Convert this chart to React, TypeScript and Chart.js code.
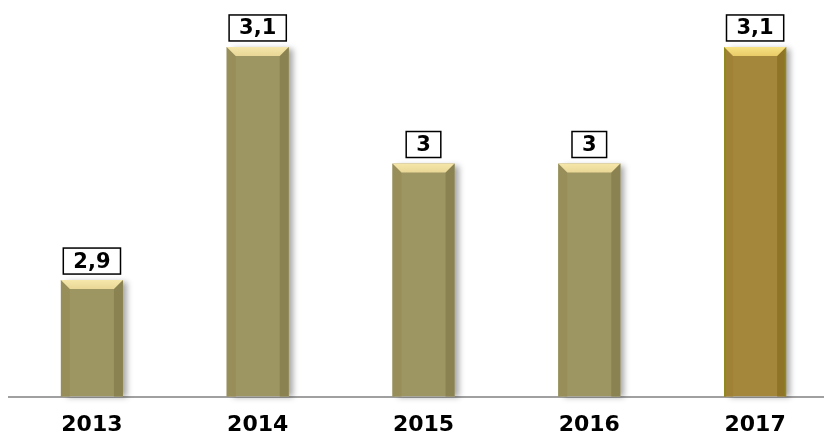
import React, { useEffect, useRef } from "react";
import { Chart, registerables } from "chart.js";

Chart.register(...registerables);

const categories = ["2013", "2014", "2015", "2016", "2017"];
const values = [2.9, 3.1, 3.0, 3.0, 3.1];
const bodyColors = ["#9e9662", "#9e9662", "#9e9662", "#9e9662", "#a5873c"];
const topColors = ["#f6e7aa", "#f6e7aa", "#f6e7aa", "#f6e7aa", "#f8e282"];
const topEndColors = ["#e8d796", "#e8d796", "#e8d796", "#e8d796", "#e9cc68"];
const leftColors = ["#978e5a", "#978e5a", "#978e5a", "#978e5a", "#9f8236"];
const rightColors = ["#8a8250", "#8a8250", "#8a8250", "#8a8250", "#8f7428"];
const edgeColors = ["", "", "", "", "#8f8a1c"];

const fmt = (v: number) => String(v).replace(".", ",");
const FONT = "'DejaVu Sans', 'Liberation Sans', Arial, sans-serif";

const bevelPlugin = {
  id: "bevel",
  beforeDatasetsDraw(chart: any) {
    const ctx = chart.ctx;
    const meta = chart.getDatasetMeta(0);
    ctx.save();
    meta.data.forEach((el: any) => {
      const w = el.width;
      const x0 = el.x - w / 2;
      ctx.save();
      ctx.shadowColor = "rgba(0,0,0,0.35)";
      ctx.shadowBlur = 6;
      ctx.shadowOffsetX = 4;
      ctx.shadowOffsetY = 0;
      ctx.fillStyle = "rgba(200,200,200,1)";
      ctx.fillRect(x0 + 2, el.y + 2, w - 2, el.base - el.y - 2);
      ctx.restore();
    });
    ctx.restore();
  },
  afterDatasetsDraw(chart: any) {
    const ctx = chart.ctx;
    const meta = chart.getDatasetMeta(0);
    ctx.save();
    meta.data.forEach((el: any, i: number) => {
      const w = el.width;
      const x0 = el.x - w / 2;
      const x1 = el.x + w / 2;
      const top = el.y;
      const base = el.base;
      const b = 9;
      ctx.fillStyle = leftColors[i];
      ctx.beginPath();
      ctx.moveTo(x0, top);
      ctx.lineTo(x0 + b, top + b);
      ctx.lineTo(x0 + b, base);
      ctx.lineTo(x0, base);
      ctx.closePath();
      ctx.fill();
      ctx.fillStyle = rightColors[i];
      ctx.beginPath();
      ctx.moveTo(x1, top);
      ctx.lineTo(x1 - b, top + b);
      ctx.lineTo(x1 - b, base);
      ctx.lineTo(x1, base);
      ctx.closePath();
      ctx.fill();
      if (edgeColors[i]) {
        ctx.fillStyle = edgeColors[i];
        ctx.fillRect(x0, top, 1.5, base - top);
        ctx.fillRect(x1 - 1.5, top, 1.5, base - top);
      }
      const g = ctx.createLinearGradient(0, top, 0, top + b);
      g.addColorStop(0, topColors[i]);
      g.addColorStop(1, topEndColors[i]);
      ctx.fillStyle = g;
      ctx.beginPath();
      ctx.moveTo(x0, top);
      ctx.lineTo(x1, top);
      ctx.lineTo(x1 - b, top + b);
      ctx.lineTo(x0 + b, top + b);
      ctx.closePath();
      ctx.fill();

      const label = fmt(values[i]);
      ctx.font = "bold 21px " + FONT;
      const tw = ctx.measureText(label).width;
      const bw = tw + 20;
      const bh = 26;
      const by = top - 6 - bh;
      const bx = el.x - bw / 2;
      ctx.fillStyle = "#ffffff";
      ctx.fillRect(bx, by, bw, bh);
      ctx.strokeStyle = "#000000";
      ctx.lineWidth = 1.5;
      ctx.strokeRect(bx, by, bw, bh);
      ctx.fillStyle = "#000000";
      ctx.textAlign = "center";
      ctx.textBaseline = "middle";
      ctx.fillText(label, el.x, by + bh / 2 + 1);
    });
    ctx.restore();
  },
};

export default function App() {
  const ref = useRef<HTMLCanvasElement>(null);
  useEffect(() => {
    document.body.style.margin = "0";
    const chart = new Chart(ref.current!, {
      type: "bar",
      data: {
        labels: categories,
        datasets: [
          {
            data: values,
            base: 2.8,
            backgroundColor: bodyColors,
            borderWidth: 0,
            barPercentage: 0.374,
            categoryPercentage: 1,
          } as any,
        ],
      },
      options: {
        animation: false,
        responsive: false,
        layout: { padding: { left: 9, right: 22, top: 0, bottom: 7 } },
        plugins: { legend: { display: false }, tooltip: { enabled: false } },
        scales: {
          x: {
            grid: { display: false, drawTicks: false },
            border: { display: true, color: "#a0a0a0", width: 2 },
            ticks: {
              color: "#000",
              padding: 15,
              font: { family: FONT, size: 22, weight: "bold" },
            },
          },
          y: { display: false, min: 2.8, max: 3.1403 },
        },
      },
      plugins: [bevelPlugin],
    });
    return () => chart.destroy();
  }, []);
  return (
    <div style={{ position: "absolute", left: 0, top: 0, width: 824, height: 433, overflow: "hidden" }}>
      <canvas ref={ref} width={860} height={460} style={{ display: "block" }} />
    </div>
  );
}
